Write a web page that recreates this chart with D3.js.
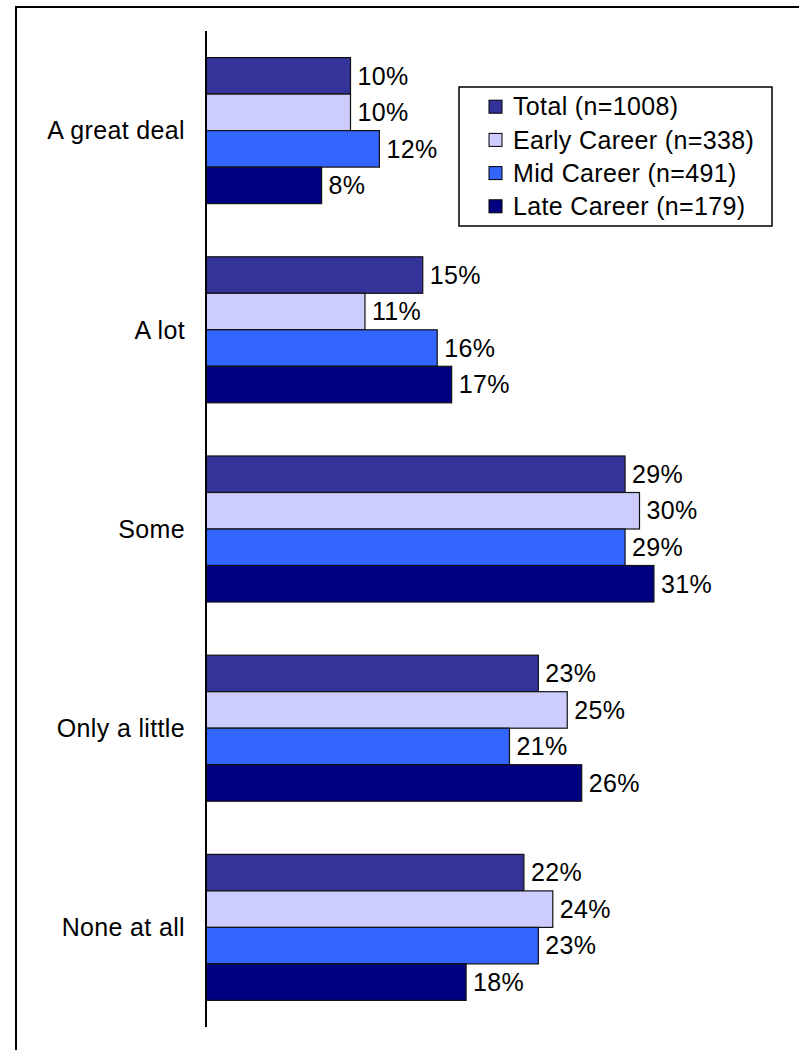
<!DOCTYPE html>
<html>
<head>
<meta charset="utf-8">
<script src="https://cdn.jsdelivr.net/npm/d3@7"></script>
<style>
  html, body { margin: 0; padding: 0; background: #fff; }
  svg { display: block; }
  text { font-family: "Liberation Sans", Arial, sans-serif; fill: #000; letter-spacing: 0.35px; }
</style>
</head>
<body>
<svg id="chart" width="799" height="1050"></svg>
<script>
// Response categories (top to bottom)
const categories = ["A great deal", "A lot", "Some", "Only a little", "None at all"];

// Respondent groups
const seriesNames = ["Total (n=1008)", "Early Career (n=338)", "Mid Career (n=491)", "Late Career (n=179)"];
const seriesColors = ["#333399", "#CCCCFF", "#3366FF", "#000080"];

// Percentages per group, in category order
const totalValues = [10, 15, 29, 23, 22];
const earlyValues = [10, 11, 30, 25, 24];
const midValues   = [12, 16, 29, 21, 23];
const lateValues  = [8, 17, 31, 26, 18];

const seriesValues = [totalValues, earlyValues, midValues, lateValues];

const svg = d3.select("#chart");
const fontSize = 25;

// Outer frame (open at right and bottom edges of the page)
svg.append("path")
  .attr("d", "M16,1050 V7 H799")
  .attr("fill", "none")
  .attr("stroke", "#000")
  .attr("stroke-width", 2);

const axisX = 206, plotTop = 31, plotBottom = 1027;

const x = d3.scaleLinear().domain([0, 40]).range([axisX, 784]);

const y = d3.scaleBand()
  .domain(categories)
  .range([plotTop, plotBottom])
  .paddingInner(0.267)
  .paddingOuter(0.1335);

const yInner = d3.scaleBand()
  .domain(d3.range(seriesNames.length))
  .range([0, y.bandwidth()]);

// Rows of (category, series, value)
const rows = [];
categories.forEach((c, ci) => {
  seriesValues.forEach((vals, si) => {
    rows.push({ category: c, series: si, value: vals[ci] });
  });
});

const g = svg.append("g");

g.selectAll("rect.bar")
  .data(rows)
  .join("rect")
  .attr("class", "bar")
  .attr("x", x(0))
  .attr("y", d => y(d.category) + yInner(d.series))
  .attr("width", d => x(d.value) - x(0))
  .attr("height", yInner.bandwidth())
  .attr("fill", d => seriesColors[d.series])
  .attr("stroke", "#111")
  .attr("stroke-width", 1.2);

g.selectAll("text.val")
  .data(rows)
  .join("text")
  .attr("class", "val")
  .attr("x", d => x(d.value) + 7)
  .attr("y", d => y(d.category) + yInner(d.series) + yInner.bandwidth() / 2)
  .attr("dy", "0.35em")
  .attr("font-size", fontSize)
  .text(d => d.value + "%");

// Category axis
const yAxis = d3.axisLeft(y).tickSize(0).tickPadding(21);
const axisG = svg.append("g")
  .attr("transform", `translate(${axisX},0)`)
  .call(yAxis);
axisG.select(".domain")
  .attr("d", `M0,${plotTop}V${plotBottom}`)
  .attr("stroke", "#000")
  .attr("stroke-width", 2);
axisG.selectAll(".tick text")
  .attr("font-size", fontSize)
  .attr("font-family", "Liberation Sans, Arial, sans-serif")
  .attr("fill", "#000")
  .attr("dy", "0.35em");

// Legend
const legend = svg.append("g").attr("transform", "translate(459,87)");
legend.append("rect")
  .attr("x", 0).attr("y", 0)
  .attr("width", 313).attr("height", 139)
  .attr("fill", "#fff")
  .attr("stroke", "#000")
  .attr("stroke-width", 1.5);

const items = legend.selectAll("g.item")
  .data(seriesNames)
  .join("g")
  .attr("class", "item")
  .attr("transform", (d, i) => `translate(30,${19.7 + i * 33.2})`);

items.append("rect")
  .attr("x", 0).attr("y", -6.5)
  .attr("width", 13).attr("height", 13)
  .attr("fill", (d, i) => seriesColors[i])
  .attr("stroke", "#000")
  .attr("stroke-width", 1);

items.append("text")
  .attr("x", 24)
  .attr("y", 0)
  .attr("dy", "0.35em")
  .attr("font-size", fontSize)
  .text(d => d);
</script>
</body>
</html>
